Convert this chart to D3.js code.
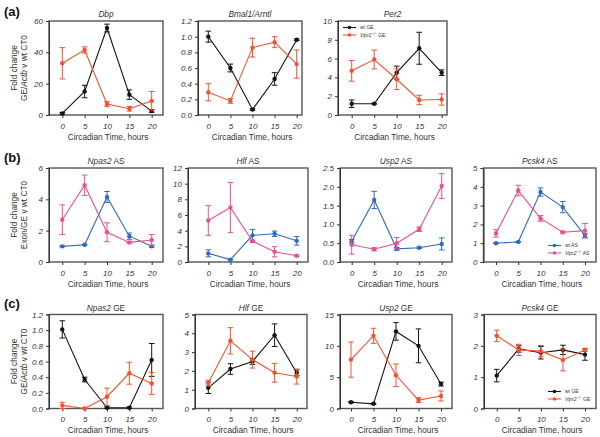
<!DOCTYPE html>
<html><head><meta charset="utf-8">
<script src="https://cdn.jsdelivr.net/npm/d3@7"></script>
<style>body{margin:0;background:#fff}svg{font-family:"Liberation Sans",Arial,sans-serif}</style>
</head><body><svg id="c" width="600" height="437"></svg>
<script>
const times = [0, 5, 10, 15, 20];
// Row (a) GE
const dbpWt = [1, 15, 55.5, 13, 2.5], dbpWtErr = [0.6, 4, 2.5, 3, 0.8];
const dbpKo = [33, 41.5, 7, 4, 9], dbpKoErr = [10, 2, 1.5, 1.5, 6];
const bmalWt = [1.0, 0.6, 0.07, 0.46, 0.96], bmalWtErr = [0.07, 0.05, 0.01, 0.08, 0.01];
const bmalKo = [0.29, 0.18, 0.86, 0.93, 0.65], bmalKoErr = [0.11, 0.03, 0.12, 0.07, 0.18];
const per2Wt = [1.2, 1.2, 4.5, 7.1, 4.5], per2WtErr = [0.4, 0.05, 0.7, 1.7, 0.3];
const per2Ko = [4.7, 5.9, 3.8, 1.6, 1.65], per2KoErr = [1.1, 1.0, 1.1, 0.5, 0.6];
// Row (b) AS
const npasAsWt = [1.0, 1.1, 4.15, 1.65, 1.0], npasAsWtErr = [0.03, 0.03, 0.35, 0.2, 0.07];
const npasAsKo = [2.7, 4.9, 1.9, 1.25, 1.4], npasAsKoErr = [0.95, 0.65, 0.6, 0.05, 0.35];
const hlfAsWt = [1.1, 0.3, 3.4, 3.6, 2.7], hlfAsWtErr = [0.45, 0.05, 0.75, 0.35, 0.55];
const hlfAsKo = [5.3, 6.95, 2.65, 1.3, 0.8], hlfAsKoErr = [1.9, 3.2, 0.15, 0.65, 0.1];
const usp2AsWt = [0.55, 1.65, 0.35, 0.38, 0.48], usp2AsWtErr = [0.05, 0.23, 0.04, 0.02, 0.16];
const usp2AsKo = [0.46, 0.34, 0.5, 0.87, 2.02], usp2AsKoErr = [0.25, 0.04, 0.15, 0.06, 0.33];
const pcskAsWt = [1.0, 1.07, 3.72, 2.92, 1.4], pcskAsWtErr = [0.02, 0.02, 0.22, 0.3, 0.12];
const pcskAsKo = [1.52, 3.8, 2.32, 1.58, 1.67], pcskAsKoErr = [0.2, 0.28, 0.15, 0.04, 0.38];
// Row (c) GE
const npasGeWt = [1.01, 0.37, 0.01, 0.01, 0.62], npasGeWtErr = [0.11, 0.03, 0.01, 0.01, 0.21];
const npasGeKo = [0.04, 0.0, 0.15, 0.45, 0.32], npasGeKoErr = [0.04, 0.01, 0.11, 0.14, 0.14];
const hlfGeWt = [1.1, 2.1, 2.5, 3.9, 1.9], hlfGeWtErr = [0.3, 0.28, 0.15, 0.6, 0.15];
const hlfGeKo = [1.35, 3.6, 2.6, 1.9, 1.7], hlfGeKoErr = [0.15, 0.7, 0.45, 0.5, 0.4];
const usp2GeWt = [1.0, 0.75, 12.3, 10.0, 3.9], usp2GeWtErr = [0.1, 0.1, 1.4, 2.7, 0.3];
const usp2GeKo = [7.8, 11.6, 5.3, 1.35, 2.0], usp2GeKoErr = [2.8, 1.2, 1.8, 0.4, 0.8];
const pcskGeWt = [1.05, 1.9, 1.78, 1.87, 1.72], pcskGeWtErr = [0.2, 0.1, 0.2, 0.15, 0.18];
const pcskGeKo = [2.32, 1.87, 1.83, 1.55, 1.87], pcskGeKoErr = [0.18, 0.18, 0.18, 0.35, 0.05];

const BLACK = "#141414", ORANGE = "#f0532e", BLUE = "#2f6bbd", PINK = "#e9508e";

const rows = {a: {top: 21, bot: 115}, b: {top: 168, bot: 262}, c: {top: 314.5, bot: 408.5}};
const panels = [
  {row: "a", fx: [49, 163], tx: [62.3, 151.7], ymax: 60, ticks: [0, 20, 40, 60], fmt: "d", gene: "Dbp", suf: "", s: [[dbpWt, dbpWtErr, BLACK], [dbpKo, dbpKoErr, ORANGE]]},
  {row: "a", fx: [198, 302], tx: [208.3, 296.7], ymax: 1.2, ticks: d3.range(0, 1.21, 0.2), fmt: ".1f", gene: "Bmal1/Arntl", suf: "", s: [[bmalWt, bmalWtErr, BLACK], [bmalKo, bmalKoErr, ORANGE]]},
  {row: "a", fx: [338, 447], tx: [351.7, 441.7], ymax: 10, ticks: d3.range(0, 11, 2), fmt: "d", gene: "Per2", suf: "", s: [[per2Wt, per2WtErr, BLACK], [per2Ko, per2KoErr, ORANGE]], legend: {x: 343, y: 27.5, c: [BLACK, ORANGE], t: "GE"}},
  {row: "b", fx: [49, 163], tx: [62.3, 151.7], ymax: 6, ticks: [0, 2, 4, 6], fmt: "d", gene: "Npas2", suf: " AS", s: [[npasAsWt, npasAsWtErr, BLUE], [npasAsKo, npasAsKoErr, PINK]]},
  {row: "b", fx: [188, 308], tx: [208.3, 296.7], ymax: 12, ticks: d3.range(0, 13, 2), fmt: "d", gene: "Hlf", suf: " AS", s: [[hlfAsWt, hlfAsWtErr, BLUE], [hlfAsKo, hlfAsKoErr, PINK]]},
  {row: "b", fx: [340, 452], tx: [351.7, 441.7], ymax: 2.5, ticks: d3.range(0, 2.51, 0.5), fmt: ".1f", gene: "Usp2", suf: " AS", s: [[usp2AsWt, usp2AsWtErr, BLUE], [usp2AsKo, usp2AsKoErr, PINK]]},
  {row: "b", fx: [483.5, 596], tx: [496, 585], ymax: 5, ticks: d3.range(0, 6, 1), fmt: "d", gene: "Pcsk4", suf: " AS", s: [[pcskAsWt, pcskAsWtErr, BLUE], [pcskAsKo, pcskAsKoErr, PINK]], legend: {x: 548, y: 245.5, c: [BLUE, PINK], t: "AS"}},
  {row: "c", fx: [49, 163], tx: [62.3, 151.7], ymax: 1.2, ticks: d3.range(0, 1.21, 0.2), fmt: ".1f", gene: "Npas2", suf: " GE", s: [[npasGeWt, npasGeWtErr, BLACK], [npasGeKo, npasGeKoErr, ORANGE]]},
  {row: "c", fx: [195, 307], tx: [208.3, 296.7], ymax: 5, ticks: d3.range(0, 6, 1), fmt: "d", gene: "Hlf", suf: " GE", s: [[hlfGeWt, hlfGeWtErr, BLACK], [hlfGeKo, hlfGeKoErr, ORANGE]]},
  {row: "c", fx: [340, 452], tx: [351, 441], ymax: 15, ticks: [0, 5, 10, 15], fmt: "d", gene: "Usp2", suf: " GE", s: [[usp2GeWt, usp2GeWtErr, BLACK], [usp2GeKo, usp2GeKoErr, ORANGE]]},
  {row: "c", fx: [484, 596], tx: [496.7, 585], ymax: 3, ticks: [0, 1, 2, 3], fmt: "d", gene: "Pcsk4", suf: " GE", s: [[pcskGeWt, pcskGeWtErr, BLACK], [pcskGeKo, pcskGeKoErr, ORANGE]], legend: {x: 548, y: 391.5, c: [BLACK, ORANGE], t: "GE"}}
];

const svg = d3.select("#c");
const TXT = "#333";

panels.forEach(p => {
  const r = rows[p.row];
  const x = d3.scaleLinear().domain([0, 20]).range(p.tx);
  const y = d3.scaleLinear().domain([0, p.ymax]).range([r.bot, r.top]);
  const g = svg.append("g");
  // frame
  g.append("rect").attr("x", p.fx[0]).attr("y", r.top).attr("width", p.fx[1] - p.fx[0]).attr("height", r.bot - r.top)
    .attr("fill", "none").attr("stroke", "#555").attr("stroke-width", 1.4);
  // y axis
  const ya = g.append("g").attr("transform", `translate(${p.fx[0]},0)`)
    .call(d3.axisLeft(y).tickValues(p.ticks).tickFormat(d3.format(p.fmt)).tickSize(3).tickPadding(3));
  ya.select(".domain").attr("stroke", "#333").attr("stroke-width", 1);
  ya.selectAll("line").attr("stroke", "#333");
  ya.selectAll("text").attr("font-size", 8).attr("font-style", "italic").attr("fill", TXT).attr("font-family", "Liberation Sans, Arial, sans-serif");
  // x axis
  const xa = g.append("g").attr("transform", `translate(0,${r.bot})`)
    .call(d3.axisBottom(x).tickValues(times).tickFormat(d3.format("d")).tickSize(3).tickPadding(5));
  xa.select(".domain").remove();
  xa.selectAll("line").attr("stroke", "#333");
  xa.selectAll("text").attr("font-size", 8).attr("font-style", "italic").attr("fill", TXT).attr("font-family", "Liberation Sans, Arial, sans-serif");
  // x label
  g.append("text").attr("x", (p.fx[0] + p.fx[1]) / 2 + 2).attr("y", r.bot + 24.5).attr("text-anchor", "middle")
    .attr("font-size", 8.3).attr("fill", TXT).text("Circadian Time, hours");
  // title
  const t = g.append("text").attr("x", (p.fx[0] + p.fx[1]) / 2).attr("y", r.top - 4).attr("text-anchor", "middle")
    .attr("font-size", 8.3).attr("fill", TXT);
  t.append("tspan").attr("font-style", "italic").text(p.gene);
  if (p.suf) t.append("tspan").text(p.suf);
  // series
  p.s.forEach(([vals, errs, col]) => {
    const pts = times.map((tt, i) => ({t: tt, v: vals[i], e: errs[i]}));
    g.append("path").datum(pts).attr("fill", "none").attr("stroke", col).attr("stroke-width", 1.1)
      .attr("d", d3.line().x(d => x(d.t)).y(d => y(d.v)));
    const eb = g.append("g").attr("stroke", col).attr("stroke-width", 1);
    pts.forEach(d => {
      const lo = y(Math.max(0, d.v - d.e)), hi = y(d.v + d.e), cx = x(d.t);
      eb.append("line").attr("x1", cx).attr("x2", cx).attr("y1", lo).attr("y2", hi);
      eb.append("line").attr("x1", cx - 2.8).attr("x2", cx + 2.8).attr("y1", lo).attr("y2", lo);
      eb.append("line").attr("x1", cx - 2.8).attr("x2", cx + 2.8).attr("y1", hi).attr("y2", hi);
    });
    g.selectAll(null).data(pts).enter().append("circle").attr("cx", d => x(d.t)).attr("cy", d => y(d.v))
      .attr("r", 2.2).attr("fill", col);
  });
  // legend
  if (p.legend) {
    const L = p.legend;
    L.c.forEach((col, i) => {
      const yy = L.y + i * 7.5;
      g.append("line").attr("x1", L.x).attr("x2", L.x + 13).attr("y1", yy).attr("y2", yy).attr("stroke", col).attr("stroke-width", 1.1);
      g.append("circle").attr("cx", L.x + 6.5).attr("cy", yy).attr("r", 1.8).attr("fill", col);
      const tx = g.append("text").attr("x", L.x + 17).attr("y", yy + 1.8).attr("font-size", 5).attr("fill", TXT);
      if (i === 0) tx.text("wt " + L.t);
      else {
        tx.append("tspan").attr("font-style", "italic").text("Vipr2");
        tx.append("tspan").attr("font-size", 3.5).attr("dy", -2).text("−/−");
        tx.append("tspan").attr("dy", 2).text(" " + L.t);
      }
    });
  }
});

// y axis labels (first column)
const ylabs = [
  {row: "a", l2: [["GE/", false], ["Actb", true], [" v wt CT0", false]]},
  {row: "b", l2: [["Exon/GE v wt CT0", false]]},
  {row: "c", l2: [["GE/", false], ["Actb", true], [" v wt CT0", false]]}
];
ylabs.forEach(yl => {
  const r = rows[yl.row];
  const cy = (r.top + r.bot) / 2;
  const g = svg.append("g").attr("transform", `translate(0,${cy}) rotate(-90)`);
  g.append("text").attr("x", 0).attr("y", 17).attr("text-anchor", "middle").attr("font-size", 8.3).attr("fill", TXT).text("Fold change");
  const t = g.append("text").attr("x", 0).attr("y", 26.5).attr("text-anchor", "middle").attr("font-size", 8.3).attr("fill", TXT);
  yl.l2.forEach(([s, it]) => t.append("tspan").attr("font-style", it ? "italic" : "normal").text(s));
});

// panel letters
[["(a)", 15.5], ["(b)", 161.5], ["(c)", 307.5]].forEach(([s, yy]) => {
  svg.append("text").attr("x", 4).attr("y", yy).attr("font-size", 13).attr("font-weight", "bold").attr("fill", "#111").text(s);
});
</script></body></html>
